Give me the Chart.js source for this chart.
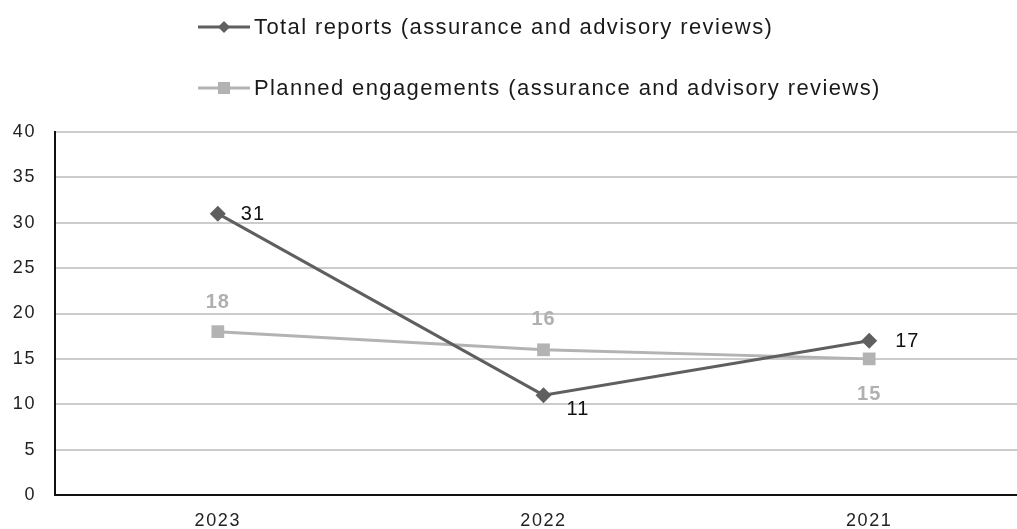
<!DOCTYPE html>
<html>
<head>
<meta charset="utf-8">
<script src="https://cdn.jsdelivr.net/npm/chart.js@4"></script>
<style>
  html, body { margin: 0; padding: 0; background: #fff; overflow: hidden; }
  #wrap { width: 1041px; height: 545px; }
</style>
</head>
<body>
<div id="wrap"><canvas id="reviewChart" width="1041" height="545"></canvas></div>
<script>
// data
const years = ["2023", "2022", "2021"];
const totalReports = [31, 11, 17];
const plannedEngagements = [18, 16, 15];
const yTicks = [0, 5, 10, 15, 20, 25, 30, 35, 40];

const DARK = "#5f5f5f";
const LIGHT = "#b3b3b3";
const FONT = "'Liberation Sans', Arial, sans-serif";

// where each value label sits relative to its point (dx, dy, align)
const labelPlacement = [
  [[23, 1, "left"], [23, 14, "left"], [26, 1, "left"]],
  [[0, -29, "center"], [0, -30, "center"], [0, 36, "center"]]
];

const spacing = {
  id: "spacing",
  beforeDraw(chart) { chart.ctx.letterSpacing = "1.6px"; }
};

// legend drawn by hand: two rows, left aligned
const legendRows = {
  id: "legendRows",
  afterDraw(chart) {
    const ctx = chart.ctx;
    chart.data.datasets.forEach((ds, i) => {
      const y = 27 + i * 61;
      ctx.save();
      ctx.strokeStyle = ds.borderColor;
      ctx.lineWidth = 3;
      ctx.beginPath();
      ctx.moveTo(198, y);
      ctx.lineTo(250, y);
      ctx.stroke();
      ctx.fillStyle = ds.borderColor;
      if (ds.pointStyle === "rectRot") {
        ctx.beginPath();
        ctx.moveTo(224, y - 6); ctx.lineTo(230, y); ctx.lineTo(224, y + 6); ctx.lineTo(218, y);
        ctx.closePath(); ctx.fill();
      } else {
        ctx.fillRect(218, y - 6, 12, 12);
      }
      ctx.fillStyle = "#1a1a1a";
      ctx.font = "22px " + FONT;
      ctx.letterSpacing = "1.4px";
      ctx.textBaseline = "middle";
      ctx.textAlign = "left";
      ctx.fillText(ds.label, 254, y + 1);
      ctx.restore();
    });
  }
};

const valueLabels = {
  id: "valueLabels",
  afterDatasetsDraw(chart) {
    const ctx = chart.ctx;
    chart.data.datasets.forEach((ds, i) => {
      const meta = chart.getDatasetMeta(i);
      meta.data.forEach((pt, j) => {
        const [dx, dy, align] = labelPlacement[i][j];
        ctx.save();
        ctx.font = (i === 0 ? "" : "bold ") + "20px " + FONT;
        ctx.letterSpacing = "1px";
        ctx.fillStyle = i === 0 ? "#111" : "#b0b0b0";
        ctx.textAlign = align;
        ctx.textBaseline = "middle";
        ctx.fillText(String(ds.data[j]), pt.x + dx, pt.y + dy);
        ctx.restore();
      });
    });
  }
};

new Chart(document.getElementById("reviewChart").getContext("2d"), {
  type: "line",
  data: {
    labels: years,
    datasets: [
      {
        label: "Total reports (assurance and advisory reviews)",
        data: totalReports,
        borderColor: DARK,
        backgroundColor: DARK,
        borderWidth: 3,
        pointStyle: "rectRot",
        pointRadius: 8,
        pointBorderWidth: 0,
        tension: 0
      },
      {
        label: "Planned engagements (assurance and advisory reviews)",
        data: plannedEngagements,
        borderColor: LIGHT,
        backgroundColor: LIGHT,
        borderWidth: 3,
        pointStyle: "rect",
        pointRadius: 9,
        pointBorderWidth: 0,
        tension: 0
      }
    ]
  },
  options: {
    responsive: false,
    animation: false,
    layout: { padding: { top: 132, left: 0, right: 0, bottom: 0 } },
    plugins: {
      legend: { display: false },
      tooltip: { enabled: false }
    },
    scales: {
      x: {
        offset: true,
        grid: { display: false, drawTicks: false },
        border: { color: "#111", width: 2 },
        ticks: { color: "#222", font: { family: FONT, size: 18 }, padding: 15, maxRotation: 0 },
        afterFit(s) { s.height = 50; }
      },
      y: {
        min: 0,
        max: 40,
        afterBuildTicks(s) { s.ticks = yTicks.map(v => ({ value: v })); },
        grid: { color: "#cccccc", lineWidth: 2, drawTicks: false },
        border: { color: "#111", width: 2 },
        ticks: { color: "#222", font: { family: FONT, size: 18 }, padding: 19 },
        afterFit(s) { s.width = 55; }
      }
    }
  },
  plugins: [spacing, legendRows, valueLabels]
});
</script>
</body>
</html>
